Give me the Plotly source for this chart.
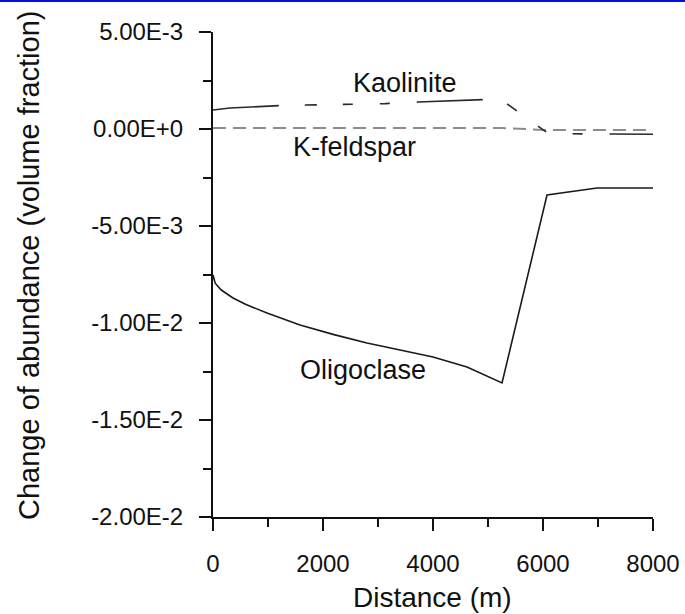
import plotly.graph_objects as go

# ---- data ----
olig_x = [0, 40, 150, 364, 600, 982, 1582, 2200, 2800, 3400, 4000, 4618, 5255, 6073, 6982, 8000]
olig_y = [-7.53e-3, -7.95e-3, -8.30e-3, -8.71e-3, -9.05e-3, -9.48e-3, -1.010e-2, -1.060e-2,
          -1.103e-2, -1.140e-2, -1.175e-2, -1.227e-2, -1.309e-2, -3.40e-3, -3.04e-3, -3.04e-3]

kaol_x = [0, 310, 1220, 2400, 3130, 3730, 4910, 5220, 6100, 7000, 8000]
kaol_y = [0.98e-3, 1.08e-3, 1.21e-3, 1.27e-3, 1.31e-3, 1.39e-3, 1.52e-3, 1.55e-3, -0.24e-3, -0.27e-3, -0.27e-3]

kfel_x = [0, 2000, 4000, 5250, 5700, 6000, 7000, 8000]
kfel_y = [0.05e-3, 0.05e-3, 0.05e-3, 0.05e-3, 0.0, -0.05e-3, -0.05e-3, -0.05e-3]

x_ticks = [0, 2000, 4000, 6000, 8000]
y_ticks = [5e-3, 0.0, -5e-3, -1e-2, -1.5e-2, -2e-2]
y_tick_labels = ["5.00E-3", "0.00E+0", "-5.00E-3", "-1.00E-2", "-1.50E-2", "-2.00E-2"]

labels = ["Kaolinite", "K-feldspar", "Oligoclase"]
label_x = [3490, 2570, 2730]
label_y = [2.35e-3, -0.95e-3, -1.240e-2]

x_title = "Distance (m)"
y_title = "Change of abundance (volume fraction)"

FONT = "Liberation Sans, Arial, Helvetica, sans-serif"

fig = go.Figure()
fig.add_trace(go.Scatter(x=kfel_x, y=kfel_y, mode="lines",
                         line=dict(color="#8c8c8c", width=2, dash="13px,7px"), name="K-feldspar"))
fig.add_trace(go.Scatter(x=kaol_x, y=kaol_y, mode="lines",
                         line=dict(color="#2a2a2a", width=1.6,
                                   dash="66px,26px,12px,26px,10px,27px,10px,27px"),
                         name="Kaolinite"))
fig.add_trace(go.Scatter(x=olig_x, y=olig_y, mode="lines",
                         line=dict(color="#1a1a1a", width=1.6), name="Oligoclase"))

for t, lx, ly in zip(labels, label_x, label_y):
    fig.add_annotation(x=lx, y=ly, text=t, showarrow=False, xanchor="center", yanchor="middle",
                       font=dict(family=FONT, size=27, color="#111"))

W, H = 685, 614
L, R, T, B = 213, 32, 32, 97
pw, ph = W - L - R, H - T - B

def px(xp):
    return (xp - L) / pw

def py(yp):
    return 1 - (yp - T) / ph

# axis titles as paper annotations
fig.add_annotation(xref="paper", yref="paper", x=px(432), y=py(597), text=x_title,
                   xanchor="center", yanchor="middle",
                   showarrow=False, font=dict(family=FONT, size=28, color="#111"))
fig.add_annotation(xref="paper", yref="paper", x=px(29), y=py(266), text=y_title,
                   xanchor="center", yanchor="middle",
                   textangle=-90, showarrow=False, font=dict(family=FONT, size=29, color="#111"))

# blue frame line at very top
fig.add_shape(type="line", xref="paper", yref="paper",
              x0=px(0), x1=px(W), y0=py(1), y1=py(1),
              line=dict(color="#0010e0", width=2))

axis_common = dict(showline=True, linecolor="#111", linewidth=2, ticks="outside",
                   tickcolor="#111", tickwidth=2, ticklen=12, showgrid=False, zeroline=False)

fig.update_xaxes(range=[0, 8000], tickvals=x_ticks, ticktext=[str(v) for v in x_ticks],
                 minor=dict(dtick=1000, ticks="outside", ticklen=8, tickwidth=2, tickcolor="#111"),
                 ticklabelstandoff=12, tickfont=dict(family=FONT, size=24, color="#111"),
                 **axis_common)
fig.update_yaxes(range=[-0.02, 0.005], tickvals=y_ticks, ticktext=y_tick_labels,
                 minor=dict(dtick=0.0025, ticks="outside", ticklen=8, tickwidth=2, tickcolor="#111"),
                 ticklabelstandoff=11, tickfont=dict(family=FONT, size=24, color="#111"),
                 **axis_common)

fig.update_layout(width=W, height=H, margin=dict(l=L, r=R, t=T, b=B, autoexpand=False),
                  paper_bgcolor="white", plot_bgcolor="white", showlegend=False)

fig.write_html("out.html", config={"displayModeBar": False},
               post_script="document.body.style.margin='0px';")
